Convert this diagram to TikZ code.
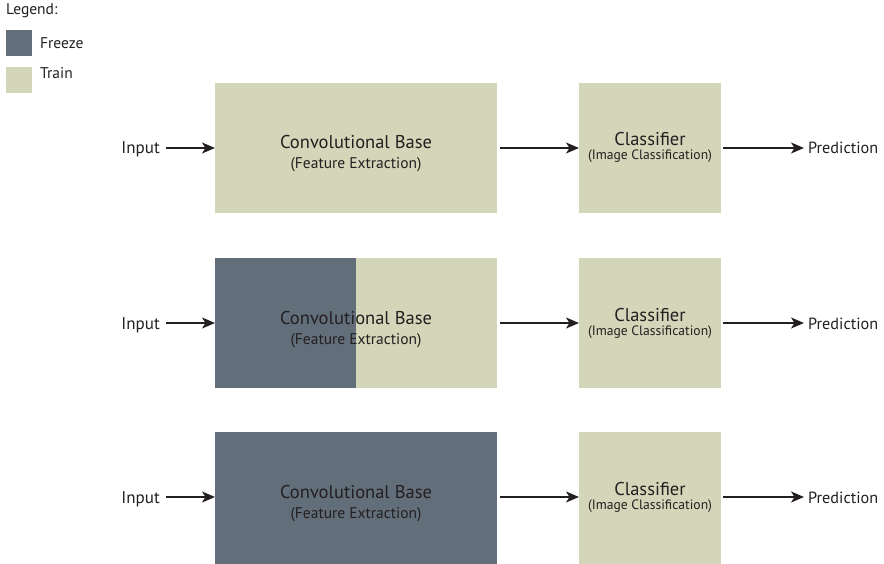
\documentclass[tikz,border=0pt]{standalone}
\usepackage{fontspec}
\setmainfont{PT Sans}
\usetikzlibrary{arrows.meta,calc}
\definecolor{freezecol}{HTML}{636E7B}
\definecolor{traincol}{HTML}{D3D6B9}
\definecolor{inkcol}{HTML}{231F20}
\tikzset{
  convbox/.style={minimum width=282pt,minimum height=130pt,inner sep=0pt,outer sep=0pt,fill=traincol},
  clsbox/.style={minimum width=142pt,minimum height=130pt,inner sep=0pt,outer sep=0pt,fill=traincol},
  bigtext/.style={text=inkcol,inner sep=0pt,anchor=base,font=\fontsize{18.5}{20}\selectfont},
  convsub/.style={text=inkcol,inner sep=0pt,anchor=base,font=\fontsize{15.5}{18}\selectfont},
  clssub/.style={text=inkcol,inner sep=0pt,anchor=base,font=\fontsize{13.6}{16}\selectfont},
  intext/.style={text=inkcol,inner sep=0pt,anchor=base east,font=\fontsize{17}{20}\selectfont},
  predtext/.style={text=inkcol,inner sep=0pt,anchor=base west,font=\fontsize{16.2}{20}\selectfont},
  legtext/.style={text=inkcol,inner sep=0pt,anchor=west,font=\fontsize{15.5}{18}\selectfont},
  flow/.style={draw=inkcol,line width=1.2pt,-{Stealth[length=13pt,width=11pt,inset=3.5pt]}},
  legbox/.style={minimum width=26pt,minimum height=26pt,inner sep=0pt}
}
\begin{document}
\begin{tikzpicture}[x=1pt,y=-1pt]
\useasboundingbox (0,0) rectangle (884,564);
% legend
\node[legtext] (leg) at (6,11) {Legend:};
\node[legbox,fill=freezecol] (lf) at (19,43) {};
\node[legbox,fill=traincol] (lt) at (19,80) {};
\node[legtext] (lft) at (40,43) {Freeze};
\node[legtext] (ltt) at (40,73) {Train};

% row 1
\node[convbox] (c1) at (356,148) {};
\node[clsbox] (k1) at (650,148) {};
\node[bigtext] (c1t) at (356,149) {Convolutional Base};
\node[convsub] (c1s) at (356,169) {(Feature Extraction)};
\node[bigtext] (k1t) at (650,146) {Classifier};
\node[clssub] (k1s) at (650,160) {(Image Classification)};
\node[intext] (i1) at (160,154) {Input};
\node[predtext] (p1) at (808,154) {Prediction};
\draw[flow] (i1.east |- c1.west) ++(6,0) -- (c1.west);
\draw[flow] (c1.east) ++(3,0) -- (k1.west);
\draw[flow] (k1.east) ++(2,0) -- ($(p1.west |- k1.east)+(-4,0)$);

% row 2
\node[convbox,path picture={\fill[freezecol] (path picture bounding box.south west) rectangle (path picture bounding box.north);}] (c2) at (356,323) {};
\node[clsbox] (k2) at (650,323) {};
\node[bigtext] (c2t) at (356,324) {Convolutional Base};
\node[convsub] (c2s) at (356,344) {(Feature Extraction)};
\node[bigtext] (k2t) at (650,321) {Classifier};
\node[clssub] (k2s) at (650,335) {(Image Classification)};
\node[intext] (i2) at (160,329) {Input};
\node[predtext] (p2) at (808,329) {Prediction};
\draw[flow] (i2.east |- c2.west) ++(6,0) -- (c2.west);
\draw[flow] (c2.east) ++(3,0) -- (k2.west);
\draw[flow] (k2.east) ++(2,0) -- ($(p2.west |- k2.east)+(-4,0)$);

% row 3
\node[convbox,fill=freezecol,minimum height=132pt] (c3) at (356,498) {};
\node[clsbox,minimum height=132pt] (k3) at (650,498) {};
\coordinate (r3) at (356,497);
\node[bigtext] (c3t) at (356,498) {Convolutional Base};
\node[convsub] (c3s) at (356,518) {(Feature Extraction)};
\node[bigtext] (k3t) at (650,495) {Classifier};
\node[clssub] (k3s) at (650,509) {(Image Classification)};
\node[intext] (i3) at (160,503) {Input};
\node[predtext] (p3) at (808,503) {Prediction};
\draw[flow] (i3.east |- r3) ++(6,0) -- (c3.west |- r3);
\draw[flow] (c3.east |- r3) ++(3,0) -- (k3.west |- r3);
\draw[flow] (k3.east |- r3) ++(2,0) -- ($(p3.west |- r3)+(-4,0)$);
\end{tikzpicture}
\end{document}
